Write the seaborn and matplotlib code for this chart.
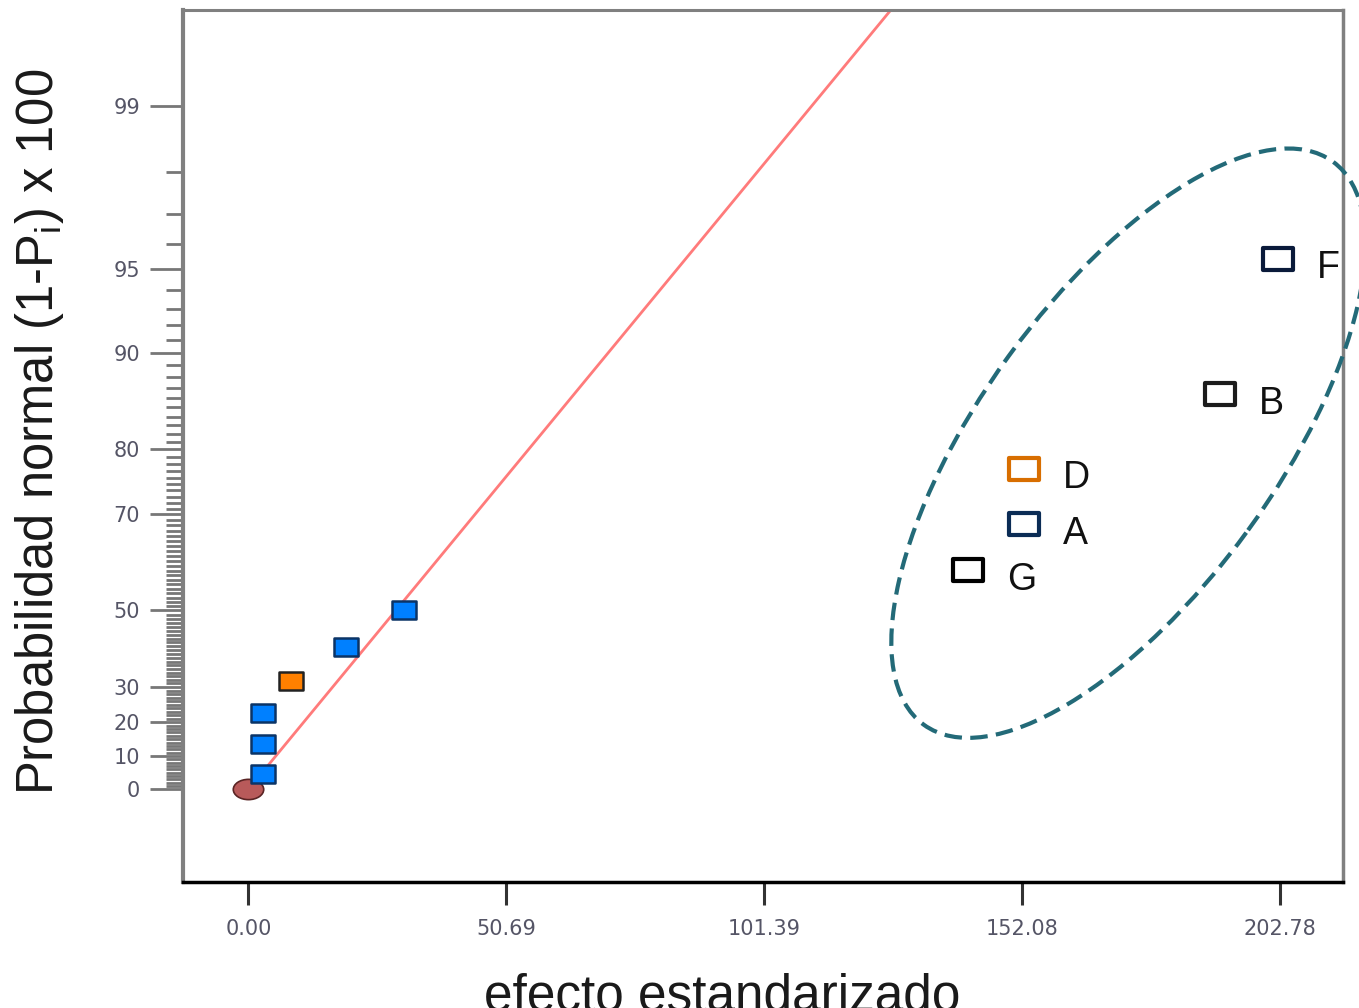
import numpy as np
import pandas as pd
import matplotlib
matplotlib.use("Agg")
import matplotlib.pyplot as plt
import seaborn as sns
from matplotlib.path import Path
from matplotlib.patches import Ellipse
from matplotlib.transforms import IdentityTransform, Affine2D
from matplotlib.ticker import NullLocator, FixedLocator
from statistics import NormalDist

# ---------------- data ----------------
effect_labels = ["", "", "", "", "", "", "G", "A", "D", "B", "F"]
effect_x = [2.8, 2.8, 2.8, 8.3, 19.3, 30.7, 141.5, 152.5, 152.5, 191.1, 202.5]
effect_pct = [4.55, 13.64, 22.73, 31.82, 40.91, 50.0, 59.09, 68.18, 77.27, 86.36, 95.45]
effect_kind = ["neg", "neg", "neg", "pos", "neg", "neg", "G", "A", "D", "B", "F"]

origin_x = [0.0]
origin_pct = [0.0]

line_x = [3.5, 130.0]
line_pct = [6.48, 99.75]

x_ticks = [0.00, 50.69, 101.39, 152.08, 202.78]
x_tick_labels = ["0.00", "50.69", "101.39", "152.08", "202.78"]
y_ticks = [0, 10, 20, 30, 50, 70, 80, 90, 95, 99]
y_tick_labels = ["0", "10", "20", "30", "50", "70", "80", "90", "95", "99"]
y_minor = [v for v in range(1, 99) if v not in y_ticks]

ellipse_center = (173.0, 80.8)

df = pd.DataFrame({"x": effect_x, "pct": effect_pct, "label": effect_labels, "kind": effect_kind})

# ---------------- styling ----------------
sns.set_style("white")
plt.rcParams["font.family"] = ["DejaVu Sans"]
plt.rcParams["mathtext.default"] = "regular"

fig = plt.figure(figsize=(13.59, 10.08), dpi=100)
ax = fig.add_axes([183 / 1359, 1 - 882 / 1008, (1343 - 183) / 1359, (882 - 10) / 1008])

nd = NormalDist()


def fwd(p):
    p = np.asarray(p, dtype=float)
    q = np.clip(np.abs(p) / 100.0, 0.0, 0.9999999)
    flat = q.ravel()
    z = np.array([nd.inv_cdf((1 + v) / 2) if np.isfinite(v) else np.nan for v in flat]).reshape(q.shape)
    return np.sign(p) * z


def inv(z):
    z = np.asarray(z, dtype=float)
    flat = z.ravel()
    c = np.array([2 * nd.cdf(abs(v)) - 1 if np.isfinite(v) else np.nan for v in flat]).reshape(z.shape)
    return np.sign(z) * c * 100.0


ax.set_yscale("function", functions=(fwd, inv))
ax.set_xlim(-12.84, 215.2)
ax.set_ylim(float(inv(-0.3494)), float(inv(2.9375)))

# markers
rect = Path([(-1.35, -1), (1.35, -1), (1.35, 1), (-1.35, 1), (-1.35, -1)],
            [Path.MOVETO, Path.LINETO, Path.LINETO, Path.LINETO, Path.CLOSEPOLY])
oval = Path.unit_circle().transformed(Affine2D().scale(1.5, 1.0))

# origin oval
sns.scatterplot(x=origin_x, y=origin_pct, ax=ax, marker=oval, s=480,
                color="#b85a5a", edgecolor="#5a2424", linewidth=1.2, zorder=3)

# reference line
sns.lineplot(x=line_x, y=line_pct, ax=ax, color="#ff7b7b", linewidth=2.0,
             sort=False, estimator=None, zorder=2)

# filled small effects
neg = df[df.kind == "neg"]
pos = df[df.kind == "pos"]
sns.scatterplot(data=neg, x="x", y="pct", ax=ax, marker=rect, s=310,
                color="#0080ff", edgecolor="#0b3466", linewidth=1.8, zorder=4)
sns.scatterplot(data=pos, x="x", y="pct", ax=ax, marker=rect, s=310,
                color="#ff8000", edgecolor="#222222", linewidth=1.8, zorder=4)

# hollow significant effects
edge_colors = {"G": "#000000", "A": "#0b2c55", "D": "#d86e00", "B": "#1c1c1c", "F": "#0a1a3a"}
sig = df[df.kind.isin(list(edge_colors))]
for _, r in sig.iterrows():
    sns.scatterplot(x=[r.x], y=[r.pct], ax=ax, marker=rect, s=470,
                    color="white", edgecolor=edge_colors[r.kind], linewidth=3.0, zorder=4)
    ax.annotate(r.label, (r.x, r.pct), xytext=(28, -14), textcoords="offset points",
                ha="left", va="baseline", fontsize=27, color="#111111",
                family=["Liberation Sans", "DejaVu Sans"], zorder=5)

# ticks
ax.xaxis.set_major_locator(FixedLocator(x_ticks))
ax.set_xticklabels(x_tick_labels)
ax.xaxis.set_minor_locator(NullLocator())
ax.yaxis.set_major_locator(FixedLocator(y_ticks))
ax.set_yticklabels(y_tick_labels)
ax.yaxis.set_minor_locator(FixedLocator(y_minor))

ax.tick_params(axis="y", which="major", left=True, length=24, width=2.0, color="#777777",
               direction="out", pad=7, labelsize=15, labelcolor="#555566")
ax.tick_params(axis="y", which="minor", left=True, length=12, width=2.0, color="#777777",
               direction="out")
ax.tick_params(axis="x", which="major", bottom=True, length=16.5, width=2.2, color="#333333",
               direction="out", pad=10, labelsize=15, labelcolor="#555566")

for side in ["left", "top", "right"]:
    ax.spines[side].set_visible(True)
    ax.spines[side].set_color("#808080")
ax.spines["left"].set_linewidth(3.0)
ax.spines["top"].set_linewidth(2.2)
ax.spines["right"].set_linewidth(2.5)
ax.spines["bottom"].set_visible(True)
ax.spines["bottom"].set_color("#000000")
ax.spines["bottom"].set_linewidth(2.5)

ax.set_xlabel("")
ax.set_ylabel("")

# dashed ellipse around the significant effects
cdisp = ax.transData.transform(ellipse_center)
ell = Ellipse(cdisp, width=696, height=296, angle=54, transform=IdentityTransform(),
              fill=False, edgecolor="#236a78", linewidth=3.0, linestyle=(0, (4.2, 2.0)),
              clip_on=False, zorder=6)
fig.add_artist(ell)

# axis titles
fig.text(40 / 1359, 1 - 432 / 1008, r"Probabilidad normal (1-P$_{\mathregular{i}}$) x 100",
         rotation=90, ha="center", va="center", fontsize=36.5, color="#1a1a1a",
         family=["Liberation Sans", "DejaVu Sans"])
fig.text(722 / 1359, -0.002, "efecto estandarizado", ha="center", va="baseline",
         fontsize=37, color="#1a1a1a", family=["Liberation Sans", "DejaVu Sans"])

fig.savefig("out.png", dpi=100, facecolor="white")
